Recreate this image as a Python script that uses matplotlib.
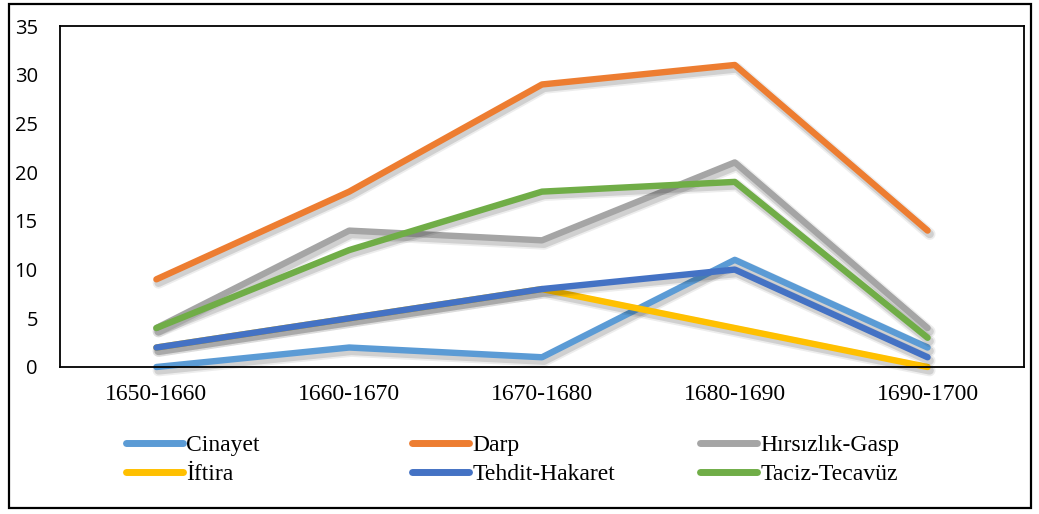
import matplotlib
matplotlib.use("Agg")
import matplotlib.pyplot as plt
import matplotlib.patheffects as pe
from matplotlib.patches import Rectangle
from matplotlib.lines import Line2D

# data
periods = ["1650-1660", "1660-1670", "1670-1680", "1680-1690", "1690-1700"]
cinayet = [0, 2, 1, 11, 2]
darp = [9, 18, 29, 31, 14]
hirsizlik = [4, 14, 13, 21, 4]
iftira = [2, 5, 8, 4, 0]
tehdit = [2, 5, 8, 10, 1]
taciz = [4, 12, 18, 19, 3]

series_names = ["Cinayet", "Darp", "Hırsızlık-Gasp", "İftira", "Tehdit-Hakaret", "Taciz-Tecavüz"]
series_values = [cinayet, darp, hirsizlik, iftira, tehdit, taciz]
colors = ["#5B9BD5", "#ED7D31", "#A5A5A5", "#FFC000", "#4472C4", "#70AD47"]

fig = plt.figure(figsize=(10.39, 5.14), dpi=100)
ax = fig.add_axes([60 / 1039, 1 - 367 / 514, 964 / 1039, 341 / 514])

x = list(range(len(periods)))
# soft drop shadow, roughly like the office chart effect
shadow = [pe.SimpleLineShadow(offset=(1.5, -2.5), shadow_color="k", alpha=0.07, linewidth=8.5),
          pe.SimpleLineShadow(offset=(1.5, -2.5), shadow_color="k", alpha=0.12, linewidth=6),
          pe.Normal()]
for name, vals, c in zip(series_names, series_values, colors):
    ax.plot(x, vals, color=c, lw=4.6, solid_capstyle="round", solid_joinstyle="round",
            path_effects=shadow, label=name, clip_on=False)

ax.set_xlim(-0.5, len(periods) - 0.5)
ax.set_ylim(0, 35)
ax.set_yticks(range(0, 36, 5))
ax.set_xticks(x)
ax.set_xticklabels(periods, fontfamily="Liberation Serif", fontsize=17)
for lab in ax.get_yticklabels():
    lab.set_fontfamily("Open Sans")
    lab.set_fontsize(14.5)
ax.tick_params(axis="both", length=0)
ax.tick_params(axis="y", pad=16)
ax.tick_params(axis="x", pad=12)
for s in ax.spines.values():
    s.set_linewidth(1.3)
    s.set_color("black")

# legend: three columns laid out like the original, row-major
col_x = [126, 412, 700]
for ci in range(3):
    idx = [ci, ci + 3]
    handles = [Line2D([], [], color=colors[i], lw=5, solid_capstyle="round") for i in idx]
    labels = [series_names[i] for i in idx]
    fig.legend(handles, labels, loc="center left",
               bbox_to_anchor=(col_x[ci] / 1039, 1 - 460 / 514),
               frameon=False, handlelength=2.4, handletextpad=0.15,
               borderpad=0, borderaxespad=0, labelspacing=0.32,
               prop={"family": "Liberation Serif", "size": 17})

# outer frame around the whole chart
fig.patches.append(Rectangle((9 / 1039, 1 - 508 / 514), 1022 / 1039, 504 / 514,
                             transform=fig.transFigure, fill=False, lw=1.6,
                             edgecolor="black"))

fig.savefig("out.png", dpi=100)
